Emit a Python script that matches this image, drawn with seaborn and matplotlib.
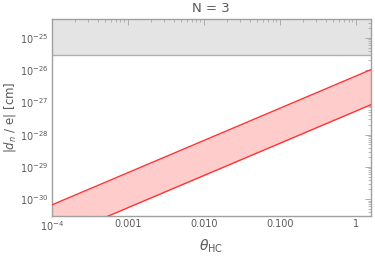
import numpy as np
import pandas as pd
import matplotlib
matplotlib.use("Agg")
import matplotlib.pyplot as plt
import seaborn as sns
from matplotlib.ticker import LogLocator, FixedLocator, FixedFormatter, NullFormatter

# data
theta = [1e-4, 1e-3, 1e-2, 1e-1, 1.0, 1.5708]
d_upper = [6.6e-31, 6.6e-30, 6.6e-29, 6.6e-28, 6.6e-27, 1.04e-26]
d_lower = [5.4e-32, 5.4e-31, 5.4e-30, 5.4e-29, 5.4e-28, 8.5e-28]
excluded_low = 3e-26
excluded_high = 1e-23
x_ticks = [1e-4, 1e-3, 1e-2, 1e-1, 1.0]
x_ticklabels = [r"$10^{-4}$", "0.001", "0.010", "0.100", "1"]
y_ticks = [1e-30, 1e-29, 1e-28, 1e-27, 1e-26, 1e-25]
y_ticklabels = [r"$10^{-30}$", r"$10^{-29}$", r"$10^{-28}$", r"$10^{-27}$", r"$10^{-26}$", r"$10^{-25}$"]

sns.set_style("white")
plt.rcParams["font.family"] = ["DejaVu Sans"]
plt.rcParams["mathtext.fontset"] = "dejavusans"

df = pd.DataFrame({"theta": theta, "upper": d_upper, "lower": d_lower})

fig = plt.figure(figsize=(3.75, 2.59), dpi=100)
ax = fig.add_axes([0.138, 0.166, 0.851, 0.761])

frame_col = "#a0a0a0"
text_col = "#5a5a5a"

ax.set_xscale("log")
ax.set_yscale("log")

ax.fill_between(df["theta"], df["lower"], df["upper"], color="#ffcccc", lw=0, zorder=1)
sns.lineplot(data=df, x="theta", y="upper", color="#ff3333", lw=1.0, ax=ax, zorder=3)
sns.lineplot(data=df, x="theta", y="lower", color="#ff3333", lw=1.0, ax=ax, zorder=3)

ax.axhspan(excluded_low, excluded_high, color="#e4e4e4", lw=0, zorder=0)
ax.axhline(excluded_low, color="#b0b0b0", lw=1.0, zorder=2)

ax.set_xlim(1e-4, 1.5708)
ax.set_ylim(3e-31, 3.9e-25)

ax.xaxis.set_major_locator(FixedLocator(x_ticks))
ax.xaxis.set_major_formatter(FixedFormatter(x_ticklabels))
ax.yaxis.set_major_locator(FixedLocator(y_ticks))
ax.yaxis.set_major_formatter(FixedFormatter(y_ticklabels))
ax.xaxis.set_minor_locator(LogLocator(base=10, subs=np.arange(2, 10), numticks=20))
ax.yaxis.set_minor_locator(LogLocator(base=10, subs=np.arange(2, 10), numticks=20))
ax.xaxis.set_minor_formatter(NullFormatter())
ax.yaxis.set_minor_formatter(NullFormatter())

ax.tick_params(which="both", direction="in", top=True, right=True, colors=frame_col,
               labelcolor=text_col, labelsize=7, pad=2.5)
ax.tick_params(which="major", length=4, width=0.6)
ax.tick_params(which="minor", length=2, width=0.5)

for s in ax.spines.values():
    s.set_color(frame_col)
    s.set_linewidth(1.0)

ax.set_xlabel(r"$\theta_{\mathrm{HC}}$", color=text_col, fontsize=10, labelpad=3)
ax.set_ylabel(r"$|d_n\ /\ \mathrm{e}|$ [cm]", color=text_col, fontsize=8.5, labelpad=1)
ax.set_title("N = 3", color=text_col, fontsize=9.5, pad=5)

fig.savefig("out.png", dpi=100)
